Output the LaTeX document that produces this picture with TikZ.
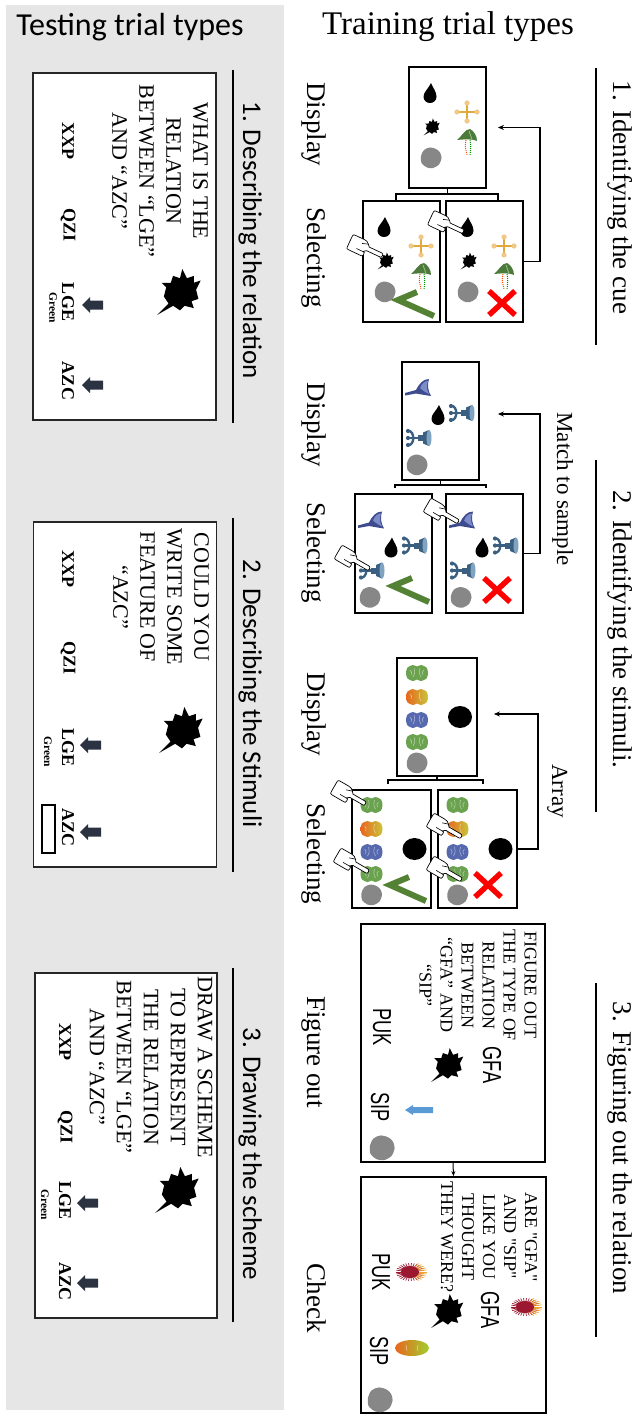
\documentclass[tikz,border=0pt]{standalone}
\usepackage{fontspec}
\setmainfont{Liberation Serif}
\newfontfamily\straightserif{Liberation Serif}[Ligatures=TeXOff]
\newfontfamily\calibrifont{Carlito}
\newfontfamily\arialfont{Liberation Sans}
\usetikzlibrary{arrows.meta}

\definecolor{panelgray}{HTML}{E6E6E6}
\definecolor{keyarrowcol}{HTML}{2B3342}
\definecolor{tickgreen}{HTML}{548235}
\definecolor{gold}{HTML}{E0A93A}
\definecolor{goldlight}{HTML}{EFC985}
\definecolor{blobgray}{HTML}{878787}
\definecolor{leafgreen}{HTML}{4B7A3A}
\definecolor{leaflight}{HTML}{9CC08A}
\definecolor{funnelblue}{HTML}{3E4B8E}
\definecolor{funnellight}{HTML}{7C8CC8}
\definecolor{anchorblue}{HTML}{3B5F80}
\definecolor{anchorlight}{HTML}{7FA3C0}
\definecolor{braingreen}{HTML}{6AA24F}
\definecolor{brainblue}{HTML}{5669AE}
\definecolor{brainorange}{HTML}{E8661E}
\definecolor{brainyellow}{HTML}{C9C43A}
\definecolor{spikyred}{HTML}{9B1830}
\definecolor{spikyorange}{HTML}{F2A32E}
\definecolor{hintblue}{HTML}{5B9BD5}

\tikzset{
  % ---- small pictograms, drawn in a y-down frame ----
  pics/drop/.style={code={
    \fill (1,-10) .. controls (3,-5) and (6.5,-1) .. (6.5,3.5)
      .. controls (6.5,7.5) and (3.5,10) .. (0,10)
      .. controls (-3.5,10) and (-6.5,7.5) .. (-6.5,3.5)
      .. controls (-6.5,-1) and (-1,-5) .. (1,-10) -- cycle;
  }},
  pics/goldcross/.style={code={
    \draw[gold, line width=1.8pt] (-10,0) -- (10,0) (0,-9) -- (0,9);
    \fill[goldlight] (-10,0) circle[radius=2.6pt];
    \fill[goldlight] (10,0) circle[radius=2.6pt];
    \fill[goldlight] (0,-9) circle[radius=2.6pt];
    \fill[goldlight] (0,9) circle[radius=2.6pt];
  }},
  pics/splat/.style={code={
    \fill (-10,10) -- (-5,5) -- (-7,2) -- (-6,-2) -- (-8,-4) -- (-4,-4) -- (-3,-7)
      -- (0,-6) -- (1,-10) -- (3,-6) -- (6,-7) -- (6,-4) -- (9,-5) -- (7,-1)
      -- (8,3) -- (5,4) -- (6,7) -- (2,6) -- (0,8) -- (-3,6) -- cycle;
  }},
  pics/leaf/.style={code={
    \fill[leafgreen] (-10,0) .. controls (-5,-4) and (-2,-11) .. (3,-11)
      .. controls (7,-9) and (10,-4) .. (10,1)
      .. controls (6,-1) and (0,-1) .. (-10,0) -- cycle;
    \draw[leaflight, line width=0.8pt] (2,-9) .. controls (3,-5) .. (5,-0.5);
    \draw[densely dotted, line width=1pt, red!70!yellow] (-1,0) .. controls (-2,6) .. (0,15);
    \draw[densely dotted, line width=1pt, green!60!black] (3,0) .. controls (4,6) .. (3,15);
  }},
  pics/blob/.style={code={
    \fill[blobgray] plot[smooth cycle] coordinates {(10.5,0) (8,6.5) (2,10) (-4,9.5)
      (-9.5,5) (-10,-2) (-7,-8) (-1,-10.5) (5,-9) (9,-5.5)};
  }},
  pics/hand/.style={code={
    \draw[fill=white, line width=0.7pt, line join=round]
      (0,-2.2) -- (-14,-2.2) -- (-16,-4.5) .. controls (-18,-6.5) .. (-22,-7)
      -- (-30,-7) .. controls (-34,-7) .. (-34,-3)
      -- (-34,5) .. controls (-34,9) .. (-30,9)
      -- (-20,9) .. controls (-16,9) .. (-16,6.5) .. controls (-16,4.5) .. (-18,4.5)
      -- (-15,2.2) -- (0,2.2) .. controls (2.2,2.2) and (2.2,-2.2) .. (0,-2.2) -- cycle;
    \draw[line width=0.6pt] (-18,4.5) -- (-25,4.5) (-16,-4.5) -- (-22,-2.5);
  }},
  pics/tickmark/.style={code={
    \draw[tickgreen, line width=6pt, line join=miter] (19,-8) -- (0,0) -- (36,16);
  }},
  pics/crossmark/.style={code={
    \draw[red, line width=5.5pt] (-13,-12) -- (13,12) (-13,12) -- (13,-12);
  }},
  pics/funnel/.style={code={
    \fill[funnelblue] (-13,5) -- (-2,2) .. controls (1,-4) and (5,-9) .. (11,-9)
      .. controls (9,-3) and (10,3) .. (13,8) .. controls (6,7) and (1,6) .. (-2,5.5)
      -- (-13,7.5) -- cycle;
    \fill[funnellight] (2,0) .. controls (4,-5) and (7,-7) .. (10,-7)
      .. controls (8,-2) and (9,2) .. (11,6) .. controls (7,4) and (4,2) .. (2,0) -- cycle;
  }},
  pics/valve/.style={code={
    \fill[anchorblue] (1,-3) rectangle (6,3);
    \fill[anchorblue] (6,-5.5) -- (12,-8) -- (12,8) -- (6,5.5) -- cycle;
    \fill[anchorlight] (12,0) ellipse[x radius=2.5pt, y radius=8pt];
    \draw[anchorblue, line width=2.4pt] (-9,-7) .. controls (-2,-8) and (-2,8) .. (-9,7);
    \draw[anchorblue, line width=2.4pt] (-9,0) -- (2,0);
    \fill[anchorblue] (-9,-7) circle[radius=2.1pt];
    \fill[anchorblue] (-9,0) circle[radius=2.1pt];
    \fill[anchorblue] (-9,7) circle[radius=2.1pt];
  }},
  pics/brain/.style={code={
    \fill[#1] plot[smooth cycle] coordinates {(-11,0) (-9.5,-5.5) (-4,-8) (0,-6.5) (4,-8)
      (9.5,-5.5) (11,0) (9.5,5.5) (4,8) (0,6.5) (-4,8) (-9.5,5.5)};
    \draw[white, opacity=0.55, line width=0.5pt] (-7,-3) .. controls (-5,-1) .. (-6,2)
      (-3,-5) .. controls (-2,0) .. (-4,4) (3,-5) .. controls (2,0) .. (4,4)
      (7,-3) .. controls (5,-1) .. (6,2);
  }},
  pics/brainmix/.style={code={
    \shade[left color=brainorange, right color=brainyellow] plot[smooth cycle] coordinates {(-11,0)
      (-9.5,-5.5) (-4,-8) (0,-6.5) (4,-8) (9.5,-5.5) (11,0) (9.5,5.5) (4,8) (0,6.5)
      (-4,8) (-9.5,5.5)};
    \draw[white, opacity=0.55, line width=0.5pt] (-7,-3) .. controls (-5,-1) .. (-6,2)
      (3,-5) .. controls (2,0) .. (4,4);
  }},
  pics/spiky/.style={code={
    \foreach \a in {0,12,...,348} \draw[spikyred, line width=0.7pt] (0,0) -- (\a:14 and 9);
    \foreach \a in {-60,-48,...,60} \draw[spikyorange, line width=0.7pt] (\a:8 and 5) -- (\a:17 and 10);
    \fill[spikyred] (0,0) ellipse[x radius=9pt, y radius=6pt];
  }},
  pics/fruit/.style={code={
    \shade[left color=brainorange, right color=brainyellow!80!green]
      (0,0) ellipse[x radius=17pt, y radius=8pt];
    \draw[white, opacity=0.6, line width=0.5pt] (-6,-3) -- (-5,3) (6,-3) -- (5,3);
  }},
  pics/keyarrow/.style={code={
    \fill[keyarrowcol] (0,0) -- (8,-8) -- (8,-4.5) -- (21,-4.5) -- (21,4.5) -- (8,4.5) -- (8,8) -- cycle;
  }},
  pics/hintarrow/.style={code={
    \fill[hintblue] (0,0) -- (8,-5) -- (8,-3) -- (28,-3) -- (28,3) -- (8,3) -- (8,5) -- cycle;
  }},
  % ---- stimulus layouts of the three training screens ----
  pics/cueset/.style={code={
    \pic at (-17.5,-34.5) {drop};
    \pic at (19.5,-15.5) {goldcross};
    \pic[scale=0.85] at (-15.5,-0.5) {splat};
    \pic at (19.5,12.5) {leaf};
    \pic at (-16.5,30.5) {blob};
  }},
  pics/sampleset/.style={code={
    \pic at (-22.5,-33) {funnel};
    \pic at (-2.5,-6) {drop};
    \pic at (19.5,-8) {valve};
    \pic at (-23.5,17) {valve};
    \pic at (-23.5,44) {blob};
  }},
  pics/arrayset/.style={code={
    \pic at (-20,-44) {brain=braingreen};
    \pic at (-20,-20) {brainmix};
    \pic at (-20,3) {brain=brainblue};
    \pic at (-20,25) {brain=braingreen};
    \pic at (-20,46) {blob};
    \fill (23,0) ellipse[x radius=12pt, y radius=11pt];
  }},
}

\begin{document}
\begin{tikzpicture}[x=1pt, y=-1pt,
  rot/.style={rotate=-90, inner sep=0pt},
  titlerule/.style={line width=1.5pt},
  qbox/.style={draw=black!85, line width=1.3pt, fill=white, inner sep=0pt},
  screen/.style={draw, line width=1.8pt, fill=white, inner sep=0pt},
  ttitle/.style={rot, anchor=base, font=\calibrifont\fontsize{27}{30}\selectfont},
  rtitle/.style={rot, anchor=base, font=\fontsize{27}{30}\selectfont},
  steplabel/.style={rot, anchor=base, font=\fontsize{27}{30}\selectfont},
  looplabel/.style={rot, anchor=base, font=\fontsize{23}{26}\selectfont},
  question/.style={rot, align=center, font=\fontsize{22}{27}\selectfont},
  prompt/.style={rot, align=center, font=\fontsize{18}{21}\selectfont},
  choice/.style={rot, font=\bfseries\fontsize{18}{20}\selectfont},
  colourtag/.style={rot, font=\bfseries\fontsize{11.5}{13}\selectfont},
  syllable/.style={rot, xscale=0.7, font=\arialfont\fontsize{26}{28}\selectfont},
  joint/.style={line width=1.5pt},
  backarrow/.style={line width=1.2pt, -{Stealth[length=6pt, width=5pt]}},
]
\useasboundingbox (0,0) rectangle (639,1415);

% ================= testing column =================
\fill[panelgray] (6,5) rectangle (284,1410);
\node[font=\calibrifont\fontsize{32}{36}\selectfont] (testhead) at (130,27) {Testing trial types};
\node[font=\fontsize{33}{36}\selectfont] (trainhead) at (448,27) {Training trial types};

% 1. Describing the relation
\node[qbox, minimum width=183, minimum height=347] (t1) at (124.5,246.5) {};
\draw[titlerule] (233,70) -- (233,423);
\node[ttitle] (t1title) at (243,240) {1. Describing the relation};
\node[question] (t1q) at (160,171) {WHAT IS THE\\RELATION\\BETWEEN “LGE”\\AND “AZC”};
\pic[scale=2.3] at (180,292) {splat};
\node[choice] (t1xxp) at (68,141) {XXP};
\node[choice] (t1qzi) at (68,225) {QZI};
\node[choice] (t1lge) at (68,302) {LGE};
\node[choice] (t1azc) at (68,381) {AZC};
\node[colourtag] (t1green) at (53,308) {Green};
\pic at (82,305) {keyarrow};
\pic at (82,385) {keyarrow};

% 2. Describing the Stimuli
\node[qbox, minimum width=183, minimum height=345] (t2) at (125,694.5) {};
\draw[titlerule] (233,518) -- (233,872);
\node[ttitle] (t2title) at (243,693.5) {2. Describing the Stimuli};
\node[question] (t2q) at (161,597) {COULD YOU\\WRITE SOME\\FEATURE OF\\“AZC”};
\pic[scale=2.3] at (182,730) {splat};
\node[choice] (t2xxp) at (68,569) {XXP};
\node[choice] (t2qzi) at (68,658) {QZI};
\node[choice] (t2lge) at (68,747) {LGE};
\node[choice] (t2azc) at (68,827) {AZC};
\node[colourtag] (t2green) at (48,752) {Green};
\node[draw, line width=1.2pt, minimum width=13, minimum height=48, inner sep=0pt] (t2answer) at (48.5,829) {};
\pic at (80,745) {keyarrow};
\pic at (80,832) {keyarrow};

% 3. Drawing the scheme
\node[qbox, minimum width=182, minimum height=345] (t3) at (126,1145.5) {};
\draw[titlerule] (233,968) -- (233,1322);
\node[ttitle] (t3title) at (243,1154) {3. Drawing the scheme};
\node[question] (t3q) at (151,1067) {DRAW A SCHEME\\TO REPRESENT\\THE RELATION\\BETWEEN “LGE”\\AND “AZC”};
\pic[scale=2.3] at (178,1190) {splat};
\node[choice] (t3xxp) at (65,1042) {XXP};
\node[choice] (t3qzi) at (65,1127) {QZI};
\node[choice] (t3lge) at (65,1200) {LGE};
\node[choice] (t3azc) at (65,1281) {AZC};
\node[colourtag] (t3green) at (45,1205) {Green};
\pic at (77,1203) {keyarrow};
\pic at (77,1283) {keyarrow};

% ================= training column =================
% 1. Identifying the cue
\node[rtitle] (r1title) at (613,197.5) {1. Identifying the cue};
\draw[titlerule] (596,68) -- (596,345);
\node[steplabel] (r1disp) at (307,124.5) {Display};
\node[steplabel] (r1sel) at (307,257.5) {Selecting};
\node[screen, minimum width=77, minimum height=121] (d1) at (447.5,127.5) {};
\node[screen, minimum width=77, minimum height=121] (s1a) at (401.5,261.5) {};
\node[screen, minimum width=77, minimum height=121] (s1b) at (484.5,261.5) {};
\draw[joint] (d1.south) -- ++(0,5) coordinate (b1);
\draw[joint] ([xshift=-5.5]s1a.north) |- (b1) -| ([xshift=13.5]s1b.north);
\draw[backarrow] (s1b.east) -- ++(16,0) |- ([xshift=11]d1.east);
\pic at (d1.center) {cueset};
\pic at (s1a.center) {cueset};
\pic at (s1b.center) {cueset};
\pic at ([shift={(-3.5,38.5)}]s1a.center) {tickmark};
\pic at ([shift={(17.5,41.5)}]s1b.center) {crossmark};
\pic[rotate=-25] at (381,255) {hand};
\pic[rotate=-25] at (462,231) {hand};

% 2. Identifying the stimuli: match to sample
\node[rtitle] (r2title) at (613,629.5) {2. Identifying the stimuli.};
\draw[titlerule] (596,460) -- (596,812);
\node[steplabel] (r2disp) at (307,424.5) {Display};
\node[steplabel] (r2sel) at (307,552.5) {Selecting};
\node[screen, minimum width=77, minimum height=118] (d2) at (440.5,421) {};
\node[screen, minimum width=77, minimum height=119] (s2a) at (393.5,553.5) {};
\node[screen, minimum width=77, minimum height=119] (s2b) at (484.5,553.5) {};
\draw[joint] (d2.south) -- ++(0,4) coordinate (b2);
\draw[joint] ([xshift=1.5,yshift=5]s2a.north) |- (b2) -| ([xshift=1.5,yshift=5]s2b.north);
\draw[backarrow] (s2b.east) -- ++(16,0) |- ([xshift=18,yshift=7]d2.east);
\node[looplabel] (r2loop) at (557,489) {Match to sample};
\pic at (d2.center) {sampleset};
\pic at (s2a.center) {sampleset};
\pic at (s2b.center) {sampleset};
\pic at ([shift={(-0.5,32.5)}]s2a.center) {tickmark};
\pic at ([shift={(12.5,36.5)}]s2b.center) {crossmark};
\pic[rotate=-30] at (368,568) {hand};
\pic[rotate=-30] at (457,521) {hand};

% 2. Identifying the stimuli: array
\node[steplabel] (r3disp) at (307,714) {Display};
\node[steplabel] (r3sel) at (307,854) {Selecting};
\node[screen, minimum width=80, minimum height=118] (d3) at (437,717) {};
\node[screen, minimum width=79, minimum height=118] (s3a) at (391.5,849) {};
\node[screen, minimum width=79, minimum height=118] (s3b) at (477.5,849) {};
\draw[joint] (d3.south) -- ++(0,3) coordinate (b3);
\draw[joint] ([xshift=-3.5,yshift=5]s3a.north) |- (b3) -| ([xshift=5.5,yshift=5]s3b.north);
\draw[backarrow] (s3b.east) -- ++(20,0) |- ([xshift=16,yshift=3]d3.east);
\node[looplabel] (r3loop) at (552,791) {Array};
\pic at (d3.center) {arrayset};
\pic at (s3a.center) {arrayset};
\pic at (s3b.center) {arrayset};
\pic at ([shift={(-1.5,36)}]s3a.center) {tickmark};
\pic at ([shift={(10.5,36)}]s3b.center) {crossmark};
\pic[rotate=-30] at (364,803) {hand};
\pic[rotate=-30] at (367,871) {hand};
\pic[rotate=-30] at (460,836) {hand};
\pic[rotate=-30] at (460,879) {hand};

% 3. Figuring out the relation
\node[rtitle] (r4title) at (613,1148) {3. Figuring out the relation};
\draw[titlerule] (596,983) -- (596,1337);
\node[steplabel] (r4fig) at (307,1052) {Figure out};
\node[steplabel] (r4chk) at (307,1298) {Check};
\node[screen, minimum width=184, minimum height=238] (fig) at (453,1043) {};
\node[screen, minimum width=185, minimum height=236] (chk) at (453.5,1295) {};
\draw[backarrow, line width=1pt, -{Stealth[length=5pt, width=4pt]}] (fig.south) -- (chk.north);

\node[prompt] (figq) at (478,985) {FIGURE OUT\\THE TYPE OF\\RELATION\\BETWEEN\\“GFA” AND\\“SIP”};
\node[syllable] (figgfa) at (492,1065) {GFA};
\node[syllable] (figpuk) at (382,1027) {PUK};
\node[syllable] (figsip) at (380,1107) {SIP};
\pic[scale=1.7] at (448,1065) {splat};
\pic at (405,1110) {hintarrow};
\pic[scale=1.2] at (382,1148) {blob};

\node[prompt, font=\straightserif\fontsize{18}{21}\selectfont] (chkq) at (489,1237) {ARE "GFA"\\AND "SIP"\\LIKE YOU\\THOUGHT\\THEY WERE?};
\node[syllable] (chkgfa) at (490,1310) {GFA};
\node[syllable] (chkpuk) at (381,1272) {PUK};
\node[syllable] (chksip) at (379,1351) {SIP};
\pic at (525,1307) {spiky};
\pic at (410,1272) {spiky};
\pic[scale=1.7] at (448,1311) {splat};
\pic at (412,1348) {fruit};
\pic[scale=1.2] at (380,1400) {blob};
\end{tikzpicture}
\end{document}
